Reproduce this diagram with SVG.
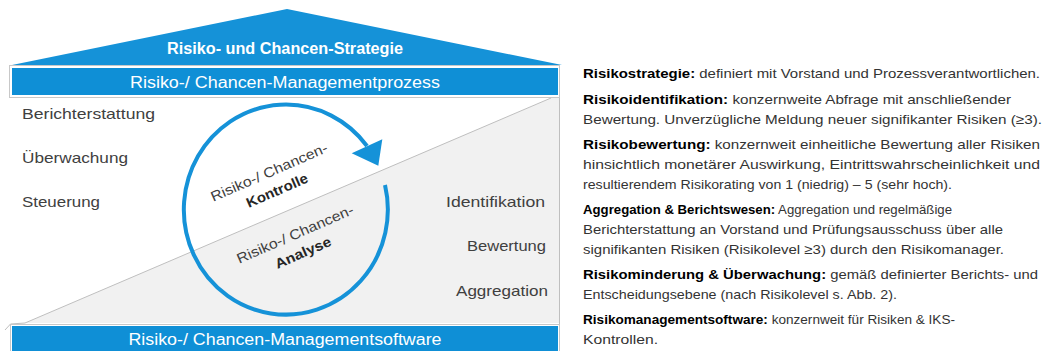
<svg xmlns="http://www.w3.org/2000/svg" width="1044" height="351" viewBox="0 0 1044 351">
<defs>
<style>
.bar{fill:#0f8fd6;}
.frame{fill:#ffffff;stroke:#c8c8c8;stroke-width:1;}
.bartxt{font-family:"Liberation Sans",Arial,sans-serif;font-size:16px;fill:#ffffff;text-anchor:middle;}
.lbl{font-family:"Liberation Sans",Arial,sans-serif;font-size:15px;fill:#404040;}
.ctxt{font-family:"Liberation Sans",Arial,sans-serif;font-size:14px;fill:#404040;text-anchor:middle;}
.cb{font-weight:bold;fill:#262626;}
.desc{font-family:"Liberation Sans",Arial,sans-serif;font-size:13.5px;fill:#333333;}
.b{font-weight:bold;fill:#000000;}
</style>
</defs>
<rect width="1044" height="351" fill="#ffffff"/>
<g id="roof">
<polygon points="12,65 287,9 562,65" fill="#1592d8"/>
<text x="285" y="54" textLength="236" lengthAdjust="spacingAndGlyphs" style="font-family:'Liberation Sans',Arial,sans-serif;font-size:16px;font-weight:bold;fill:#ffffff;text-anchor:middle">Risiko- und Chancen-Strategie</text>
</g>
<g id="process-bar">
<rect class="frame" x="9.5" y="65.5" width="550" height="32"/>
<rect class="bar" x="12" y="68" width="546" height="27"/>
<text class="bartxt" x="285" y="88" textLength="310" lengthAdjust="spacingAndGlyphs">Risiko-/ Chancen-Managementprozess</text>
</g>
<g id="main-box">
<polygon points="25,323 551,98 559,98 559,323" fill="#f1f1f1"/>
<line x1="25" y1="323" x2="551" y2="98" stroke="#bfbfbf" stroke-width="1"/>
<line x1="559.5" y1="98" x2="559.5" y2="324" stroke="#bfbfbf" stroke-width="1"/>
<polyline points="5,330 10.5,324 25,323" fill="none" stroke="#bfbfbf" stroke-width="1"/>
</g>
<g id="left-labels">
<text class="lbl" x="22" y="119" textLength="133" lengthAdjust="spacingAndGlyphs">Berichterstattung</text>
<text class="lbl" x="22" y="163" textLength="106" lengthAdjust="spacingAndGlyphs">Überwachung</text>
<text class="lbl" x="22" y="207" textLength="78" lengthAdjust="spacingAndGlyphs">Steuerung</text>
</g>
<g id="right-labels">
<text class="lbl" x="446" y="207" textLength="99" lengthAdjust="spacingAndGlyphs">Identifikation</text>
<text class="lbl" x="467" y="251" textLength="79" lengthAdjust="spacingAndGlyphs">Bewertung</text>
<text class="lbl" x="456" y="296" textLength="92" lengthAdjust="spacingAndGlyphs">Aggregation</text>
</g>
<g id="connectors">
<path d="M385,185 A102,105 0 1 1 367,146" fill="none" stroke="#1592d8" stroke-width="4"/>
<polygon points="382.3,139.3 351.7,153.3 378.3,165.7" fill="#1592d8"/>
</g>
<g id="kontrolle" transform="translate(269,172) rotate(-23.5)">
<text class="ctxt" x="0" y="5" textLength="126" lengthAdjust="spacingAndGlyphs">Risiko-/ Chancen-</text>
<text class="ctxt cb" x="0" y="25" textLength="66" lengthAdjust="spacingAndGlyphs">Kontrolle</text>
</g>
<g id="analyse" transform="translate(295,234) rotate(-23.5)">
<text class="ctxt" x="0" y="5" textLength="126" lengthAdjust="spacingAndGlyphs">Risiko-/ Chancen-</text>
<text class="ctxt cb" x="0" y="25" textLength="60" lengthAdjust="spacingAndGlyphs">Analyse</text>
</g>
<g id="software-bar">
<rect class="frame" x="10.5" y="324.5" width="549" height="30"/>
<rect class="bar" x="12" y="326" width="546" height="30"/>
<text class="bartxt" x="285" y="345" textLength="313" lengthAdjust="spacingAndGlyphs">Risiko-/ Chancen-Managementsoftware</text>
</g>
<g id="description">
<text class="desc" x="583" y="78" textLength="457" lengthAdjust="spacingAndGlyphs"><tspan class="b">Risikostrategie:</tspan> definiert mit Vorstand und Prozessverantwortlichen.</text>
<text class="desc" x="583" y="104" textLength="428" lengthAdjust="spacingAndGlyphs"><tspan class="b">Risikoidentifikation:</tspan> konzernweite Abfrage mit anschließender</text>
<text class="desc" x="583" y="124" textLength="459" lengthAdjust="spacingAndGlyphs">Bewertung. Unverzügliche Meldung neuer signifikanter Risiken (≥3).</text>
<text class="desc" x="583" y="149" textLength="457" lengthAdjust="spacingAndGlyphs"><tspan class="b">Risikobewertung:</tspan> konzernweit einheitliche Bewertung aller Risiken</text>
<text class="desc" x="583" y="169" textLength="457" lengthAdjust="spacingAndGlyphs">hinsichtlich monetärer Auswirkung, Eintrittswahrscheinlichkeit und</text>
<text class="desc" x="583" y="189" textLength="369" lengthAdjust="spacingAndGlyphs">resultierendem Risikorating von 1 (niedrig) – 5 (sehr hoch).</text>
<text class="desc" x="583" y="214" textLength="369" lengthAdjust="spacingAndGlyphs"><tspan class="b">Aggregation &amp; Berichtswesen:</tspan> Aggregation und regelmäßige</text>
<text class="desc" x="583" y="234" textLength="420" lengthAdjust="spacingAndGlyphs">Berichterstattung an Vorstand und Prüfungsausschuss über alle</text>
<text class="desc" x="583" y="254" textLength="421" lengthAdjust="spacingAndGlyphs">signifikanten Risiken (Risikolevel ≥3) durch den Risikomanager.</text>
<text class="desc" x="583" y="279" textLength="455" lengthAdjust="spacingAndGlyphs"><tspan class="b">Risikominderung &amp; Überwachung:</tspan> gemäß definierter Berichts- und</text>
<text class="desc" x="583" y="299" textLength="314" lengthAdjust="spacingAndGlyphs">Entscheidungsebene (nach Risikolevel s. Abb. 2).</text>
<text class="desc" x="583" y="324" textLength="372" lengthAdjust="spacingAndGlyphs"><tspan class="b">Risikomanagementsoftware:</tspan> konzernweit für Risiken &amp; IKS-</text>
<text class="desc" x="583" y="344" textLength="75" lengthAdjust="spacingAndGlyphs">Kontrollen.</text>
</g>
</svg>
